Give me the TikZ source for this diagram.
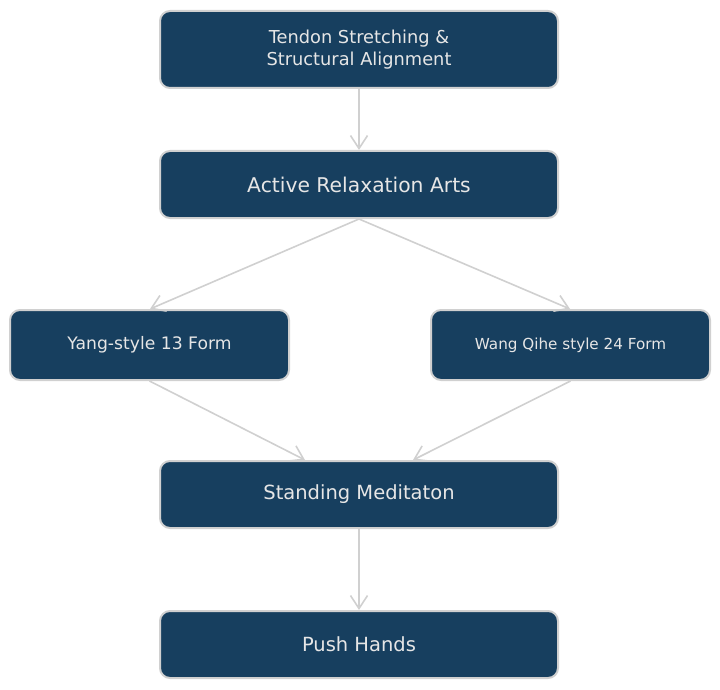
\documentclass[tikz,border=0pt]{standalone}
\usepackage{fontspec}
\setmainfont{DejaVu Sans}
\usetikzlibrary{arrows.meta}

\definecolor{boxblue}{HTML}{173F5F}
\definecolor{edgegray}{HTML}{D0D0D0}
\definecolor{textgray}{HTML}{E6E6E6}

\tikzset{
  stagebox/.style={draw=edgegray, line width=2pt, fill=boxblue, rounded corners=10pt,
    text=textgray, align=center, inner sep=0pt},
  flow/.style={draw=edgegray, line width=1.6pt, -{Straight Barb[length=13pt,width=17pt,line width=1.6pt]}}
}

\begin{document}
\begin{tikzpicture}[x=1pt,y=-1pt]
  \useasboundingbox (0,0) rectangle (720,690);
  \node[stagebox, minimum width=398pt, minimum height=77pt, font=\fontsize{17.8}{22}\selectfont] (tendon) at (359,49.5) {Tendon Stretching \&\\Structural Alignment};
  \node[stagebox, minimum width=398pt, minimum height=67pt, font=\fontsize{20.3}{22}\selectfont] (active) at (359,184.5) {Active Relaxation Arts};
  \node[stagebox, minimum width=279pt, minimum height=70pt, font=\fontsize{17.2}{19}\selectfont] (yang) at (149.5,345) {Yang-style 13 Form};
  \node[stagebox, minimum width=279pt, minimum height=70pt, font=\fontsize{15.2}{18}\selectfont] (wang) at (570.5,345) {Wang Qihe style 24 Form};
  \node[stagebox, minimum width=398pt, minimum height=67pt, font=\fontsize{19.5}{22}\selectfont] (standing) at (359,494.5) {Standing Meditaton};
  \node[stagebox, minimum width=398pt, minimum height=67pt, font=\fontsize{19.5}{22}\selectfont] (push) at (359,644.5) {Push Hands};
  % connectors
  \draw[flow] (tendon.south) -- (active.north);
  \draw[flow] (active.south) -- ([xshift=0.5pt]yang.north);
  \draw[flow] (active.south) -- ([xshift=-0.5pt]wang.north);
  \draw[flow] (yang.south) -- ([xshift=-54pt]standing.north);
  \draw[flow] (wang.south) -- ([xshift=54pt]standing.north);
  \draw[flow] (standing.south) -- (push.north);
\end{tikzpicture}
\end{document}
